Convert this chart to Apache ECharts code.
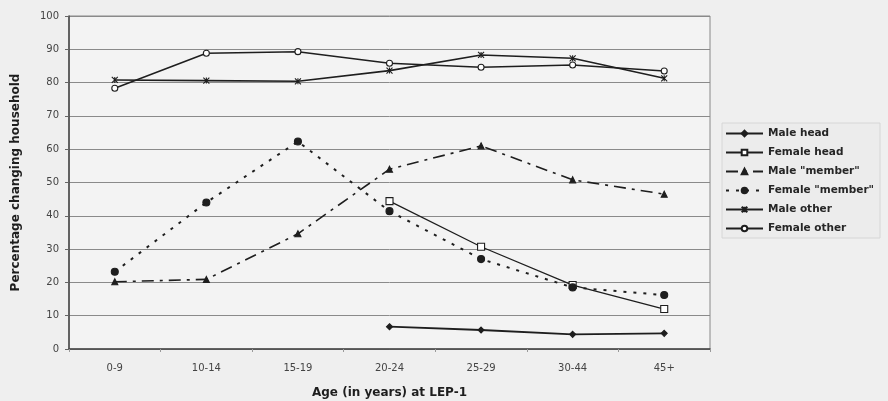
<!DOCTYPE html>
<html>
<head>
<meta charset="utf-8">
<script src="https://cdn.jsdelivr.net/npm/echarts@6/dist/echarts.min.js"></script>
<style>
  html, body { margin: 0; padding: 0; background: #efefef; }
  #chart { width: 888px; height: 401px; }
</style>
</head>
<body>
<div id="chart"></div>
<script>
var ageGroups = ['0-9', '10-14', '15-19', '20-24', '25-29', '30-44', '45+'];
var maleHead = [null, null, null, 6.7, 5.7, 4.4, 4.7];
var femaleHead = [null, null, null, 44.4, 30.7, 19.2, 12.0];
var maleMember = [20.2, 20.9, 34.6, 54.0, 61.0, 50.8, 46.5];
var femaleMember = [23.2, 44.0, 62.3, 41.4, 27.0, 18.5, 16.2];
var maleOther = [80.8, 80.6, 80.4, 83.6, 88.3, 87.3, 81.3];
var femaleOther = [78.3, 88.8, 89.3, 85.8, 84.6, 85.3, 83.5];

var ink = '#1e1e1e';
var starPath = 'path://M0,0L10,10M10,0L0,10M5,0L5,10';

function lineSeries(name, data, symbol, size, dash, filled, width) {
  return {
    name: name,
    type: 'line',
    data: data,
    symbol: symbol,
    symbolSize: size,
    showAllSymbol: true,
    connectNulls: false,
    lineStyle: { color: ink, width: width || 1.6, type: dash || 'solid' },
    itemStyle: {
      color: filled ? ink : '#ffffff',
      borderColor: ink,
      borderWidth: 1.1
    },
    emphasis: { disabled: true }
  };
}

var chart = echarts.init(document.getElementById('chart'));
chart.setOption({
  backgroundColor: '#efefef',
  animation: false,
  textStyle: { fontFamily: 'DejaVu Sans, Arial, sans-serif' },
  grid: {
    left: 69, right: 178, top: 16, bottom: 52,
    outerBoundsMode: 'none',
    show: true, borderColor: '#888', borderWidth: 1, backgroundColor: '#f3f3f3'
  },
  legend: {
    orient: 'vertical',
    left: 722, top: 123,
    itemWidth: 37, itemHeight: 7, itemGap: 8,
    padding: [5, 6, 4, 3],
    backgroundColor: '#ececec',
    borderColor: '#d6d6d6', borderWidth: 1,
    textStyle: { fontSize: 10.5, fontWeight: 'bold', color: '#262626' },
    data: ['Male head', 'Female head', 'Male "member"', 'Female "member"', 'Male other', 'Female other']
  },
  xAxis: {
    type: 'category',
    data: ageGroups,
    boundaryGap: true,
    name: 'Age (in years) at LEP-1',
    nameLocation: 'middle',
    nameGap: 38,
    nameTextStyle: { fontSize: 12, fontWeight: 'bold', color: '#1e1e1e' },
    axisLine: { lineStyle: { color: '#444', width: 1.5 } },
    axisTick: { show: true, length: 3, lineStyle: { color: '#999' } },
    axisLabel: { fontSize: 10, color: '#444', margin: 14 }
  },
  yAxis: {
    type: 'value',
    min: 0, max: 100, interval: 10,
    name: 'Percentage changing household',
    nameLocation: 'middle',
    nameGap: 47,
    nameTextStyle: { fontSize: 12, fontWeight: 'bold', color: '#1e1e1e' },
    axisLine: { show: true, lineStyle: { color: '#444', width: 1.5 } },
    axisTick: { show: true, length: 4, lineStyle: { color: '#666' } },
    axisLabel: { fontSize: 10, color: '#444', margin: 10 },
    splitLine: { lineStyle: { color: '#8a8a8a', width: 1 } }
  },
  series: [
    lineSeries('Male head', maleHead, 'diamond', 6, 'solid', true, 1.8),
    lineSeries('Female head', femaleHead, 'rect', 7, 'solid', false, 1.3),
    lineSeries('Male "member"', maleMember, 'triangle', 6, [12, 6, 3, 6], true, 1.6),
    lineSeries('Female "member"', femaleMember, 'circle', 7, [3, 7], true, 2),
    lineSeries('Male other', maleOther, starPath, 6, 'solid', true, 1.6),
    lineSeries('Female other', femaleOther, 'circle', 6, 'solid', false, 1.5)
  ]
});
</script>
</body>
</html>
